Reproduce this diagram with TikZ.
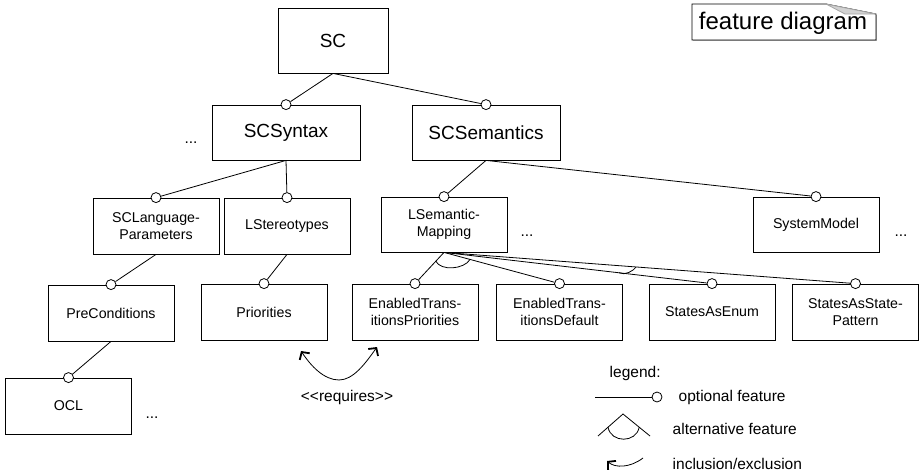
\documentclass[tikz,border=0pt]{standalone}
\usepackage{fontspec}
\setmainfont{Liberation Sans}
\usetikzlibrary{calc}
\usetikzlibrary{arrows.meta}
\usetikzlibrary{shadows}

\begin{document}
\begin{tikzpicture}[x=1pt,y=-1pt,line width=0.8pt,
    feat/.style={draw, fill=white, drop shadow={shadow xshift=0.8pt, shadow yshift=-0.8pt, fill=gray!70, opacity=1}, minimum width=126pt, minimum height=56pt, align=center, inner sep=2pt, font=\fontsize{14.2}{17}\selectfont},
    topfeat/.style={feat, minimum width=148pt, minimum height=55pt, font=\fontsize{19}{21}\selectfont},
    opt/.style={circle, draw, fill=white, inner sep=0pt, minimum size=10pt},
    txt/.style={font=\fontsize{15.5}{18}\selectfont},
    req/.style={-{Straight Barb[length=5.5pt,width=12pt,line width=1.8pt]}}]
    \useasboundingbox (0,0) rectangle (921,474);

    % features
    \node[topfeat, minimum width=110pt, minimum height=65pt] (sc) at (333,40.5) {SC};
    \node[topfeat] (scsyn) at (286,132.5) {SCSyntax};
    \node[topfeat] (scsem) at (486,132.5) {SCSemantics};
    \node[feat] (scpar) at (156,226) {SCLanguage-\\Parameters};
    \node[feat] (lster) at (287,226) {LStereotypes};
    \node[feat, minimum height=55pt] (lsem) at (444,224.5) {LSemantic-\\Mapping};
    \node[feat, minimum height=55pt] (sysm) at (816,224.5) {SystemModel};
    \node[feat] (precond) at (111,313) {PreConditions};
    \node[feat] (ocl) at (68.5,406) {OCL};
    \node[feat] (prio) at (264,312) {Priorities};
    \node[feat] (etp) at (415,312) {EnabledTrans-\\itionsPriorities};
    \node[feat] (etd) at (559.5,312) {EnabledTrans-\\itionsDefault};
    \node[feat] (sae) at (712,312) {StatesAsEnum};
    \node[feat] (sasp) at (855.5,312) {StatesAsState-\\Pattern};

    \node[txt] (dots1) at (191,143) {...};
    \node[txt] (dots2) at (527,236) {...};
    \node[txt] (dots3) at (901,236) {...};
    \node[txt] (dots4) at (152,418) {...};

    % optional markers
    \foreach \f in {scsyn,scsem,scpar,lster,lsem,sysm,precond,ocl,prio,etp,etd,sae,sasp}
        \node[opt] (o-\f) at (\f.north) {};

    \draw (sc.south) -- (o-scsyn);
    \draw (sc.south) -- (o-scsem);
    \draw (scsyn.south) -- (o-scpar);
    \draw (scsyn.south) -- (o-lster);
    \draw (scsem.south) -- (o-lsem);
    \draw (scsem.south) -- (o-sysm);
    \draw (scpar.south) -- (o-precond);
    \draw (precond.south) -- (o-ocl);
    \draw (lster.south) -- (o-prio);
    \foreach \f in {etp,etd,sae,sasp}
        \draw (lsem.south) -- (o-\f);

    % alternatives
    \draw ($(lsem.south)!12pt!(o-etp)$) .. controls +(5,10) and +(-6,10) .. ($(lsem.south)!27pt!(o-etd)$);
    \draw ($(lsem.south)!0.653!(o-sae)$) .. controls +(6,3) and +(-3,4) .. ($(lsem.south)!0.467!(o-sasp)$);

    % requires
    \coordinate (reqM) at (339,380);
    \coordinate (reqL) at (301,351);
    \coordinate (reqR) at (377,347);
    \draw[req] (reqM) .. controls (324,380) and (311,366) .. (reqL);
    \draw[req] (reqM) .. controls (353,380) and (365,364) .. (reqR);
    \node[txt] (reqlbl) at (347,397) {{<}{<}requires{>}{>}};

    % legend
    \node[txt, anchor=west] (leg) at (606,373) {legend:};
    \coordinate (optA) at (595,397);
    \node[opt] (optB) at (657,397) {};
    \draw (optA) -- (optB);
    \node[txt, anchor=west] (legopt) at (675,397) {optional feature};
    \coordinate (altT) at (623,414);
    \coordinate (altL) at (598,436);
    \coordinate (altR) at (650,436);
    \draw (altL) -- (altT) -- (altR);
    \draw ($(altT)!0.6!(altL)$) .. controls +(3,16) and +(-3,16) .. ($(altT)!0.6!(altR)$);
    \node[txt, anchor=west] (legalt) at (669,429) {alternative feature};
    \coordinate (incA) at (643,458);
    \coordinate (incB) at (607,461);
    \draw[req] (incA) .. controls (630,468) and (615,468) .. (incB);
    \node[txt, anchor=west] (leginc) at (669,464) {inclusion/exclusion};

    % diagram badge
    \fill[gray!60] (693,41) rectangle (877,15);
    \draw[fill=white] (692,40) -- (692,4) -- (826,4) -- (876,14) -- (876,40) -- cycle;
    \draw[gray!70, fill=gray!35] (826,4) -- (876,14) -- (845,14) -- cycle;
    \node[font=\fontsize{24}{26}\selectfont] (fd) at (783,23) {feature diagram};
\end{tikzpicture}
\end{document}
